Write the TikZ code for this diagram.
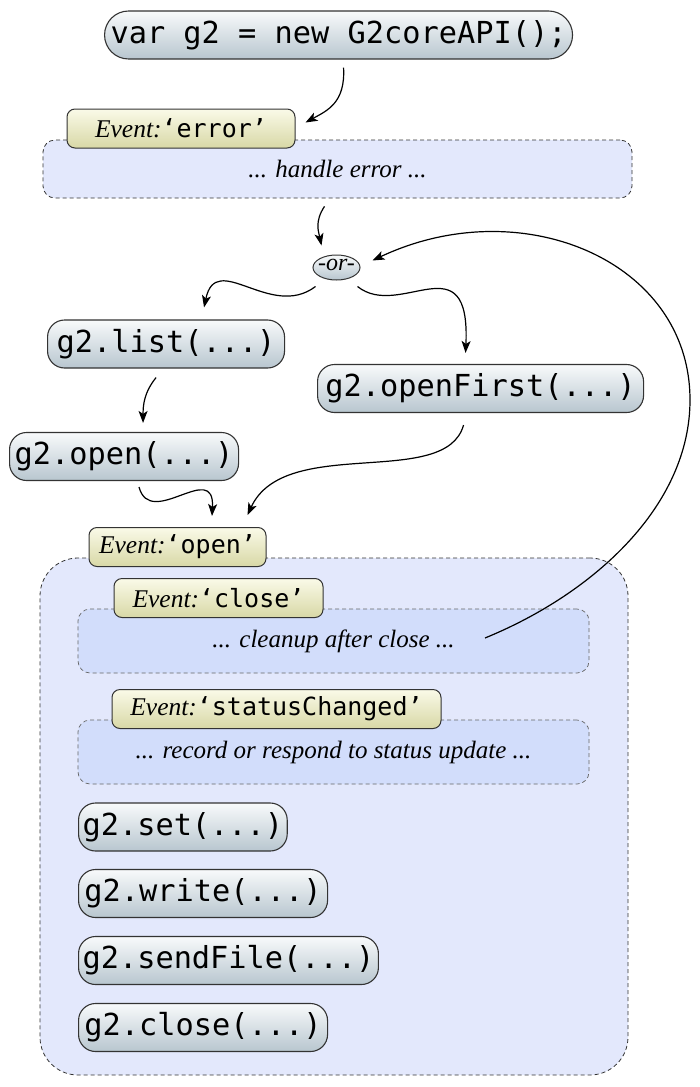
\documentclass[tikz,border=0pt]{standalone}
\usepackage{fontspec}
\setmainfont{Liberation Serif}
\newfontfamily\codefont{DejaVu Sans Mono}
\usetikzlibrary{arrows.meta,shapes.geometric}
\definecolor{codetop}{HTML}{F8FAFB}
\definecolor{codebot}{HTML}{B8C6CF}
\definecolor{tagtop}{HTML}{FAFAE8}
\definecolor{tagbot}{HTML}{D8D8A6}
\definecolor{boxfill}{HTML}{E3E8FC}
\definecolor{innerfill}{HTML}{D2DDFB}
\definecolor{edge}{HTML}{333333}
\tikzset{
  codenode/.style={draw=edge, line width=1.1pt, rounded corners=17pt, top color=codetop, bottom color=codebot,
    minimum height=48pt, inner xsep=4pt, inner ysep=0pt, anchor=west,
    font=\codefont\fontsize{30.3}{36}\selectfont},
  tagnode/.style={draw=edge, line width=1pt, rounded corners=8pt, top color=tagtop, bottom color=tagbot,
    minimum height=39pt, inner sep=0pt},
  evbox/.style={draw=edge, dash pattern=on 4pt off 3pt, line width=0.8pt, fill=boxfill, rounded corners=12pt, inner sep=0pt},
  inbox/.style={draw=black!60, dash pattern=on 4pt off 3pt, line width=0.7pt, fill=innerfill, rounded corners=12pt, inner sep=0pt},
  ittext/.style={font=\itshape\fontsize{25}{30}\selectfont},
  arr/.style={line width=1.2pt, -{Stealth[length=12pt,width=9pt,inset=3pt]}},
}
\newcommand{\ev}[1]{{\itshape\fontsize{25.5}{30}\selectfont Event:}{\codefont\fontsize{25}{30}\selectfont ‘#1’}}
\begin{document}
\begin{tikzpicture}[x=1pt,y=-1pt]
\useasboundingbox (0,0) rectangle (700,1087);
% big open box
\node[evbox, rounded corners=38pt, minimum width=588pt, minimum height=517pt] (openbox) at (334,816.5) {};
\node[inbox, minimum width=511pt, minimum height=64pt] (cleanup) at (333.5,641) {};
\node[ittext] at (cleanup.center) {... cleanup after close ...};
\node[inbox, minimum width=511pt, minimum height=64pt] (status) at (333.5,752) {};
\node[ittext] at (status.center) {... record or respond to status update ...};
% handle error box
\node[evbox, minimum width=589pt, minimum height=58pt] (err) at (337.5,169) {};
\node[ittext] at (err.center) {... handle error ...};
% tags
\node[tagnode, minimum width=228pt] (errtag) at (181,128.5) {\ev{error}};
\node[tagnode, minimum width=177pt] (opentag) at (177.5,547) {\ev{open}};
\node[tagnode, minimum width=209pt] (closetag) at (218.5,598) {\ev{close}};
\node[tagnode, minimum width=329pt] (statustag) at (276.5,709) {\ev{statusChanged}};
% code nodes
\node[codenode, rounded corners=24pt, minimum width=468pt] (top) at (104,35) {var g2 = new G2coreAPI();};
\node[codenode, minimum width=237pt] (list) at (47,344) {g2.list(...)};
\node[codenode, minimum width=326pt] (openfirst) at (317,388.5) {g2.openFirst(...)};
\node[codenode, minimum width=229pt] (open) at (9,456.5) {g2.open(...)};
\node[codenode, minimum width=207pt] (set) at (78,827) {g2.set(...)};
\node[codenode, minimum width=249pt] (write) at (78,893.5) {g2.write(...)};
\node[codenode, minimum width=299pt] (sendfile) at (78,960.5) {g2.sendFile(...)};
\node[codenode, minimum width=249pt] (close) at (78,1027.5) {g2.close(...)};
% or ellipse
\node[ellipse, draw=edge, line width=1pt, top color=codetop, bottom color=codebot, minimum width=47pt, minimum height=25pt, inner sep=0pt]
  (or) at (336.5,267.5) {\raisebox{-0.3em}[0pt][0pt]{\makebox[0pt]{\itshape\fontsize{24}{27}\selectfont -or-}}};
\coordinate (loop) at (690,400);
% connectors
\draw[arr] ([shift={(5,8)}]top.south) .. controls +(2,35) and +(22,-12) .. ([shift={(10,-6)}]errtag.east);
\draw[arr] ([shift={(-13,8)}]err.south) .. controls +(-10,15) and +(-3,-14) .. ([shift={(-15,-9)}]or.north);
\draw[arr] ([shift={(-21,6)}]or.south) .. controls +(-45,34) and +(12,-58) .. ([shift={(38,-12)}]list.north);
\draw[arr] ([shift={(21,6)}]or.south) .. controls +(42.5,34) and +(5,-113) .. ([shift={(-15,-11)}]openfirst.north);
\draw[arr] ([shift={(-10,9)}]list.south) .. controls +(-12,15) and +(0,-18) .. ([shift={(19,-9)}]open.north);
\draw[arr] ([shift={(15,6)}]open.south) .. controls +(11.5,43) and +(3,-57) .. ([shift={(34.5,-11)}]opentag.north);
\draw[arr] ([shift={(-17,12)}]openfirst.south) .. controls +(-18,65) and +(37.5,-81) .. ([shift={(70,-12)}]opentag.north);
\draw[arr] ([shift={(151.5,-3)}]cleanup.center) .. controls +(110,-45) and +(0,105) .. (loop)
  .. controls +(0,-140) and +(148,-70) .. ([shift={(12,-7)}]or.east);
\end{tikzpicture}
\end{document}
